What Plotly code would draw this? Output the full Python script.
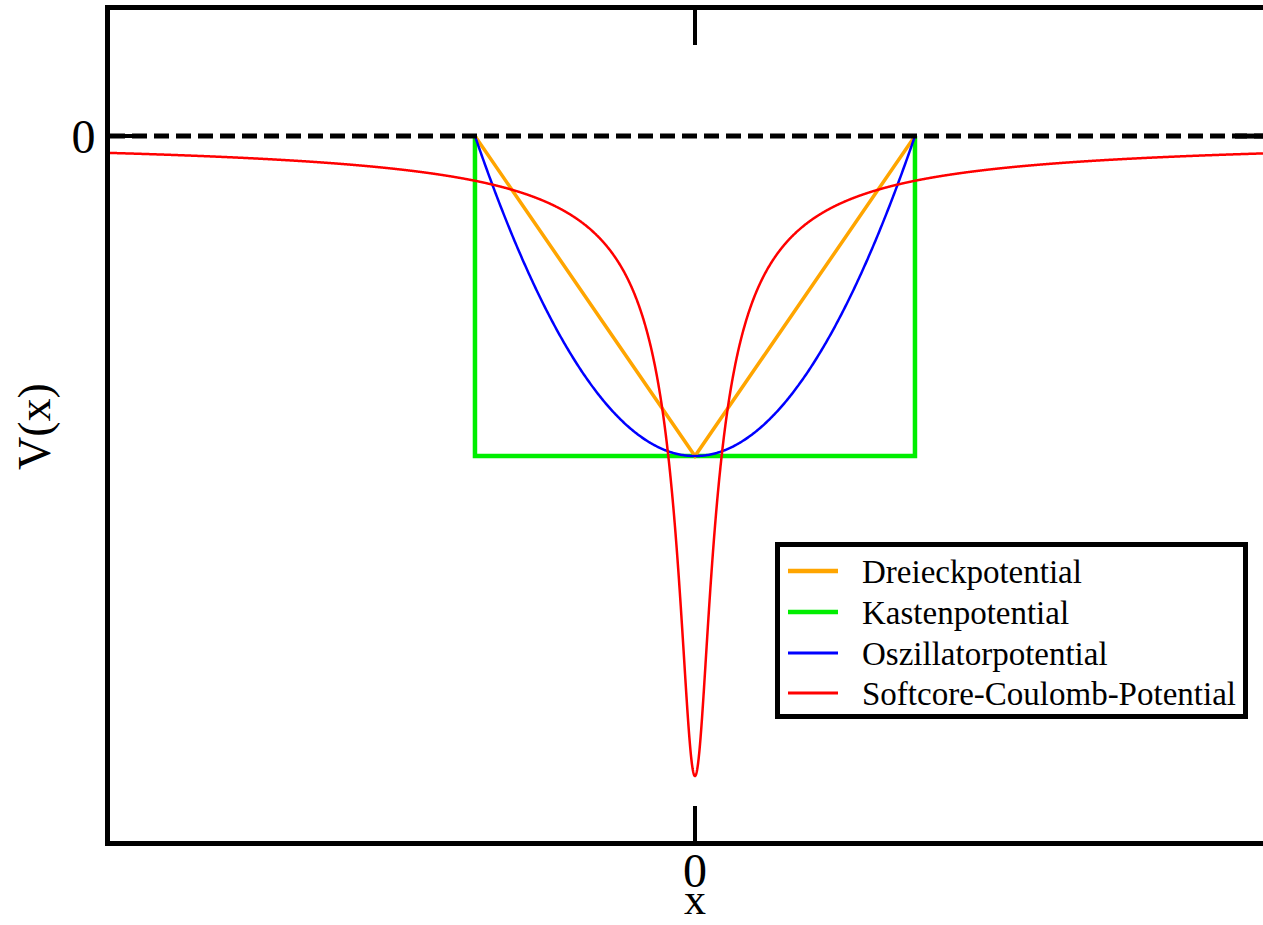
import numpy as np
import plotly.graph_objects as go

# Well parameters (dimensionless units: half-width a, depth V0)
well_half_width = 1.0
well_depth = 1.0
coulomb_strength = 0.14
coulomb_softening = 0.07

# Piecewise potentials given by their corner points
triangle_x = [-1.0, 0.0, 1.0]
triangle_v = [0.0, -1.0, 0.0]
box_x = [-1.0, -1.0, 1.0, 1.0]
box_v = [0.0, -1.0, -1.0, 0.0]

# Axis extents
x_range = [-2.659, 2.582]
v_range = [-2.203, 0.394]

series_names = ["Dreieckpotential", "Kastenpotential",
                "Oszillatorpotential", "Softcore-Coulomb-Potential"]
series_colors = ["#ffa500", "#00ee00", "#0000ff", "#ff0000"]
series_widths = [3.5, 4.5, 2.5, 2.5]

x_osc = np.linspace(-well_half_width, well_half_width, 401)
v_osc = -well_depth + well_depth * (x_osc / well_half_width) ** 2

x_cb = np.linspace(x_range[0], x_range[1], 4001)
v_cb = -coulomb_strength / np.sqrt(x_cb ** 2 + coulomb_softening ** 2)

FONT = "Liberation Serif"
W, H = 1263, 925
ML, MT, MB = 110, 10, 84
PW, PH = W - ML, H - MT - MB


def px(xp):
    return (xp - ML) / PW


def py(yp):
    return (H - MB - yp) / PH


fig = go.Figure()
curves = {
    "Kastenpotential": (box_x, box_v),
    "Dreieckpotential": (triangle_x, triangle_v),
    "Oszillatorpotential": (x_osc, v_osc),
    "Softcore-Coulomb-Potential": (x_cb, v_cb),
}
for name in ["Kastenpotential", "Dreieckpotential", "Oszillatorpotential",
             "Softcore-Coulomb-Potential"]:
    i = series_names.index(name)
    xs, vs = curves[name]
    fig.add_trace(go.Scatter(x=xs, y=vs, mode="lines", name=name, showlegend=False,
                             line=dict(color=series_colors[i], width=series_widths[i],
                                       simplify=False)))

# zero line, with the right-hand tick of the frame at its end
fig.add_shape(type="line", xref="paper", x0=0, x1=1, yref="y", y0=0, y1=0,
              line=dict(color="black", width=5, dash="15px,7px"), layer="above")
fig.add_shape(type="line", xref="paper", x0=px(1235), x1=1, yref="y", y0=0, y1=0,
              line=dict(color="black", width=5), layer="above")

# legend box
fig.add_shape(type="rect", xref="paper", yref="paper",
              x0=px(777.5), x1=px(1245.5), y0=py(716.5), y1=py(544.5),
              line=dict(color="black", width=5), fillcolor="white", layer="above")
row_y = [571, 612, 653, 693]
legend_widths = [4.5, 4.5, 3, 3]
for i, name in enumerate(series_names):
    fig.add_shape(type="line", xref="paper", yref="paper",
                  x0=px(788), x1=px(838), y0=py(row_y[i]), y1=py(row_y[i]),
                  line=dict(color=series_colors[i], width=legend_widths[i]), layer="above")
    fig.add_annotation(xref="paper", yref="paper", x=px(860), y=py(row_y[i] + 1),
                       xanchor="left", yanchor="middle", showarrow=False, text=name,
                       font=dict(family=FONT, size=33, color="black"))

# x tick label and axis titles
fig.add_annotation(xref="x", yref="paper", x=0, y=py(870),
                   xanchor="center", yanchor="middle", showarrow=False, text="0",
                   font=dict(family=FONT, size=48, color="black"))
fig.add_annotation(xref="paper", yref="paper", x=px(695), y=py(899),
                   xanchor="center", yanchor="middle", showarrow=False, text="x",
                   font=dict(family=FONT, size=44, color="black"))
fig.add_annotation(xref="paper", yref="paper", x=px(34), y=py(427),
                   xanchor="center", yanchor="middle", showarrow=False, text="V(x)",
                   textangle=-90, font=dict(family=FONT, size=46, color="black"))

fig.update_layout(
    width=W, height=H,
    margin=dict(l=ML, r=0, t=MT, b=MB),
    paper_bgcolor="white", plot_bgcolor="white",
    font=dict(family=FONT, color="black"),
    showlegend=False,
    xaxis=dict(
        range=x_range, showgrid=False, zeroline=False, automargin=False,
        showline=True, linecolor="black", linewidth=5, mirror="ticks",
        ticks="inside", ticklen=35, tickwidth=4, tickcolor="black",
        tickvals=[0], showticklabels=False,
    ),
    yaxis=dict(
        range=v_range, showgrid=False, zeroline=False, automargin=False,
        showline=True, linecolor="black", linewidth=5,
        ticks="inside", ticklen=35, tickwidth=4, tickcolor="black",
        tickvals=[0], ticktext=["0"], tickfont=dict(family=FONT, size=48),
    ),
)

fig.write_html("out.html")
